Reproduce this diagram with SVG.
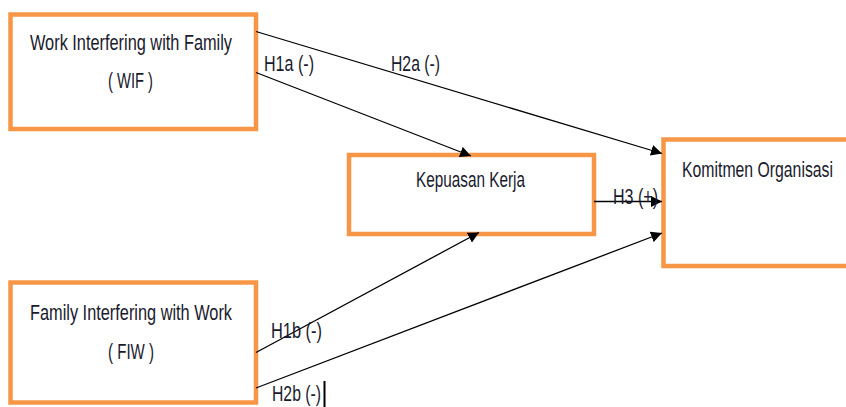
<svg xmlns="http://www.w3.org/2000/svg" width="846" height="407" viewBox="0 0 846 407">
<defs>
<style>
.box{fill:#fff;stroke:#F79646;stroke-width:4.5}
.t{font-family:"Liberation Sans",Arial,sans-serif;font-size:21.5px;fill:#1a1a2e}
.c{stroke:#000;stroke-width:1.3;fill:none;marker-end:url(#ah)}
</style>
<marker id="ah" viewBox="0 0 10 10" refX="10" refY="5" markerWidth="11" markerHeight="11" markerUnits="userSpaceOnUse" orient="auto">
<path d="M0,0 L10,5 L0,10 z" fill="#000"/>
</marker>
</defs>
<rect width="846" height="407" fill="#fff"/>
<g id="wif">
<rect class="box" x="10.5" y="14.5" width="245.5" height="114.5"/>
<text class="t" x="30" y="50" textLength="202" lengthAdjust="spacingAndGlyphs">Work Interfering with Family</text>
<text class="t" x="108" y="88" textLength="45" lengthAdjust="spacingAndGlyphs">( WIF )</text>
</g>
<g id="kepuasan">
<rect class="box" x="349" y="155" width="245" height="79"/>
<text class="t" x="416" y="187" textLength="109" lengthAdjust="spacingAndGlyphs">Kepuasan Kerja</text>
</g>
<g id="komitmen">
<rect class="box" x="663.5" y="139.5" width="186" height="126.5"/>
<text class="t" x="682" y="177" textLength="151" lengthAdjust="spacingAndGlyphs">Komitmen Organisasi</text>
</g>
<g id="fiw">
<rect class="box" x="10.5" y="282.5" width="245.5" height="120"/>
<text class="t" x="30" y="320" textLength="202" lengthAdjust="spacingAndGlyphs">Family Interfering with Work</text>
<text class="t" x="108" y="359" textLength="46" lengthAdjust="spacingAndGlyphs">( FIW )</text>
</g>
<g id="connectors">
<line class="c" x1="256" y1="31.5" x2="662" y2="153.5"/>
<line class="c" x1="256" y1="72.5" x2="471" y2="156"/>
<line class="c" x1="594" y1="201.5" x2="662" y2="201.5"/>
<line class="c" x1="256" y1="352.5" x2="479" y2="232.5"/>
<line class="c" x1="256" y1="388" x2="662" y2="233"/>
</g>
<g id="labels">
<text class="t" x="264" y="71" textLength="50" lengthAdjust="spacingAndGlyphs">H1a (-)</text>
<text class="t" x="391" y="71" textLength="49" lengthAdjust="spacingAndGlyphs">H2a (-)</text>
<text class="t" x="613" y="204" textLength="45" lengthAdjust="spacingAndGlyphs">H3 (+)</text>
<text class="t" x="271" y="338" textLength="51" lengthAdjust="spacingAndGlyphs">H1b (-)</text>
<text class="t" x="272" y="401" textLength="49" lengthAdjust="spacingAndGlyphs">H2b (-)</text>
<rect x="323.5" y="381" width="2" height="26" fill="#000"/>
</g>
</svg>
